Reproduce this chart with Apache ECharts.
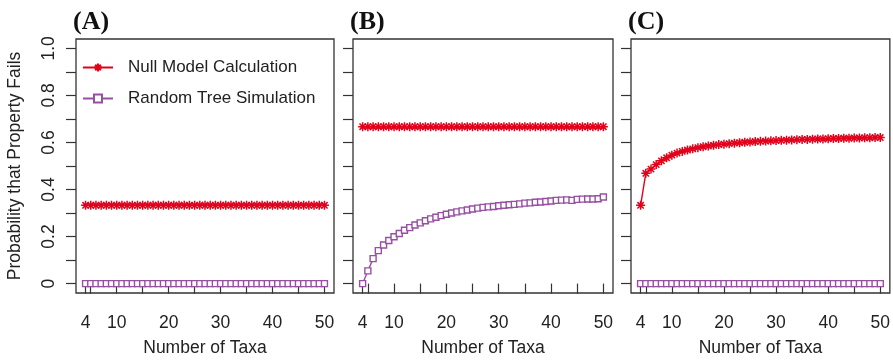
<!DOCTYPE html>
<html>
<head>
<meta charset="utf-8">
<script src="https://cdn.jsdelivr.net/npm/echarts@6/dist/echarts.min.js"></script>
<style>
  html, body { margin: 0; padding: 0; background: #fff; }
  #chart { width: 893px; height: 362px; }
</style>
</head>
<body>
<div id="chart"></div>
<script>
// number of taxa, 4..50
var taxa = [4, 5, 6, 7, 8, 9, 10, 11, 12, 13, 14, 15, 16, 17, 18, 19, 20, 21, 22, 23, 24, 25, 26, 27,
  28, 29, 30, 31, 32, 33, 34, 35, 36, 37, 38, 39, 40, 41, 42, 43, 44, 45, 46, 47, 48, 49, 50];

// panel A
var nullA = [0.333, 0.333, 0.333, 0.333, 0.333, 0.333, 0.333, 0.333, 0.333, 0.333, 0.333, 0.333,
  0.333, 0.333, 0.333, 0.333, 0.333, 0.333, 0.333, 0.333, 0.333, 0.333, 0.333, 0.333, 0.333, 0.333,
  0.333, 0.333, 0.333, 0.333, 0.333, 0.333, 0.333, 0.333, 0.333, 0.333, 0.333, 0.333, 0.333, 0.333,
  0.333, 0.333, 0.333, 0.333, 0.333, 0.333, 0.333];
var simA = [0, 0, 0, 0, 0, 0, 0, 0, 0, 0, 0, 0, 0, 0, 0, 0, 0, 0, 0, 0, 0, 0, 0, 0,
  0, 0, 0, 0, 0, 0, 0, 0, 0, 0, 0, 0, 0, 0, 0, 0, 0, 0, 0, 0, 0, 0, 0];

// panel B
var nullB = [0.667, 0.667, 0.667, 0.667, 0.667, 0.667, 0.667, 0.667, 0.667, 0.667, 0.667, 0.667,
  0.667, 0.667, 0.667, 0.667, 0.667, 0.667, 0.667, 0.667, 0.667, 0.667, 0.667, 0.667, 0.667, 0.667,
  0.667, 0.667, 0.667, 0.667, 0.667, 0.667, 0.667, 0.667, 0.667, 0.667, 0.667, 0.667, 0.667, 0.667,
  0.667, 0.667, 0.667, 0.667, 0.667, 0.667, 0.667];
var simB = [0.000, 0.054, 0.106, 0.140, 0.164, 0.183, 0.199, 0.213, 0.227, 0.238, 0.249, 0.258,
  0.267, 0.275, 0.282, 0.289, 0.295, 0.300, 0.305, 0.309, 0.313, 0.317, 0.321, 0.324, 0.326, 0.328,
  0.331, 0.333, 0.335, 0.337, 0.339, 0.342, 0.343, 0.346, 0.347, 0.349, 0.351, 0.354, 0.355, 0.356,
  0.354, 0.358, 0.359, 0.360, 0.360, 0.361, 0.368];

// panel C
var nullC = [0.333, 0.469, 0.487, 0.506, 0.522, 0.535, 0.546, 0.555, 0.562, 0.568, 0.573, 0.578,
  0.582, 0.585, 0.588, 0.591, 0.593, 0.595, 0.597, 0.599, 0.601, 0.602, 0.604, 0.605, 0.606, 0.607,
  0.608, 0.609, 0.610, 0.611, 0.612, 0.613, 0.613, 0.614, 0.615, 0.615, 0.616, 0.617, 0.617, 0.618,
  0.618, 0.619, 0.619, 0.620, 0.620, 0.621, 0.621];
var simC = [0, 0, 0, 0, 0, 0, 0, 0, 0, 0, 0, 0, 0, 0, 0, 0, 0, 0, 0, 0, 0, 0, 0, 0,
  0, 0, 0, 0, 0, 0, 0, 0, 0, 0, 0, 0, 0, 0, 0, 0, 0, 0, 0, 0, 0, 0, 0];

var panelTitles = ['(A)', '(B)', '(C)'];
var xTicks = [4, 5, 10, 15, 20, 25, 30, 35, 40, 45, 50];
var xLabels = [4, 10, 20, 30, 40, 50];
var yTicks = [0, 0.1, 0.2, 0.3, 0.4, 0.5, 0.6, 0.7, 0.8, 0.9, 1.0];
var yLabels = [0, 0.2, 0.4, 0.6, 0.8, 1.0];

var RED = '#e3001b';
var PURPLE = '#984ea3';
var STAR = 'path://M0,5L10,5M5,0L5,10M1.5,1.5L8.5,8.5M1.5,8.5L8.5,1.5';
var FONT = '"Liberation Sans", Arial, sans-serif';

var gridLefts = [76, 353, 631];
var gridWidths = [258, 260, 259];
var nullData = [nullA, nullB, nullC];
var simData = [simA, simB, simC];

function pairs(ys) {
  return taxa.map(function (t, i) { return [t, ys[i]]; });
}

var grids = [], xAxes = [], yAxes = [], titles = [], series = [];
for (var p = 0; p < 3; p++) {
  grids.push({
    left: gridLefts[p], top: 39, width: gridWidths[p], height: 256,
    show: true, borderColor: '#333', borderWidth: 1.3, backgroundColor: '#fff'
  });
  titles.push({
    text: panelTitles[p], left: gridLefts[p] - 8, top: 4,
    textStyle: { fontFamily: '"Liberation Serif", "Times New Roman", serif', fontWeight: 'bold', fontSize: 26, color: '#111' }
  });
  xAxes.push({
    gridIndex: p, type: 'value', min: 2.16, max: 51.84,
    name: 'Number of Taxa', nameLocation: 'middle', nameGap: 46,
    nameTextStyle: { fontFamily: FONT, fontSize: 17.5, color: '#222' },
    axisLine: { show: false },
    splitLine: { show: false },
    axisTick: { show: true, length: 10, customValues: xTicks, lineStyle: { color: '#333', width: 1.2 } },
    axisLabel: { show: true, margin: 21, customValues: xLabels, fontFamily: FONT, fontSize: 17.5, color: '#222' }
  });
  yAxes.push({
    gridIndex: p, type: 'value', min: -0.04, max: 1.04,
    name: p === 0 ? 'Probability that Property Fails' : '',
    nameLocation: 'middle', nameGap: 52, nameRotate: 90,
    nameTextStyle: { fontFamily: FONT, fontSize: 17.5, color: '#222' },
    axisLine: { show: false },
    splitLine: { show: false },
    axisTick: { show: true, length: 10, customValues: yTicks, lineStyle: { color: '#333', width: 1.2 } },
    axisLabel: {
      show: p === 0, margin: 18, rotate: 90, customValues: yLabels,
      fontFamily: FONT, fontSize: 17.5, color: '#222',
      formatter: function (v) { return v === 0 ? '0' : v.toFixed(1); }
    }
  });
  series.push({
    name: 'Null Model Calculation', type: 'line',
    xAxisIndex: p, yAxisIndex: p, data: pairs(nullData[p]),
    symbol: STAR, symbolSize: 9, showAllSymbol: true,
    lineStyle: { color: RED, width: 1.4 },
    itemStyle: { color: RED, borderColor: RED, borderWidth: 1.5 },
    z: 3
  });
  series.push({
    name: 'Random Tree Simulation', type: 'line',
    xAxisIndex: p, yAxisIndex: p, data: pairs(simData[p]),
    symbol: 'rect', symbolSize: 6, showAllSymbol: true,
    lineStyle: { color: PURPLE, width: 1.4 },
    itemStyle: { color: '#fff', borderColor: PURPLE, borderWidth: 1.4 },
    z: 2
  });
}

var myChart = echarts.init(document.getElementById('chart'));
myChart.setOption({
  animation: false,
  backgroundColor: '#fff',
  title: titles,
  legend: {
    data: ['Null Model Calculation', 'Random Tree Simulation'],
    orient: 'vertical', left: 77, top: 54,
    itemWidth: 30, itemHeight: 10, itemGap: 14,
    textStyle: { fontFamily: FONT, fontSize: 17, color: '#222', padding: [0, 0, 0, 10] }
  },
  grid: grids,
  xAxis: xAxes,
  yAxis: yAxes,
  series: series
});
</script>
</body>
</html>
